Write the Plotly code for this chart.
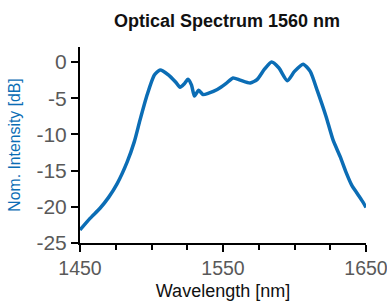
import plotly.graph_objects as go

wavelength_nm = [1450, 1457, 1464, 1470, 1476, 1483, 1488, 1492, 1497, 1502, 1506, 1512, 1517, 1520,
                 1523, 1525.5, 1528, 1530, 1533, 1536, 1540, 1546, 1552, 1557, 1562, 1569, 1574,
                 1579, 1584, 1589, 1595, 1600, 1606, 1611, 1616, 1622, 1627, 1632, 1636, 1640,
                 1644, 1648, 1650]
intensity_db = [-23.2, -21.6, -20.2, -18.7, -16.8, -13.8, -11.0, -8.0, -4.5, -1.8, -1.1, -1.8, -2.8, -3.5,
                -3.0, -2.4, -3.2, -4.7, -3.9, -4.5, -4.3, -3.8, -3.0, -2.2, -2.5, -2.9, -2.4,
                -1.0, 0.0, -0.8, -2.6, -1.3, -0.3, -1.3, -4.0, -7.5, -10.8, -13.1, -15.2, -17.0,
                -18.2, -19.4, -20.1]

x_tick_labels = [1450, 1550, 1650]
y_tick_labels = [0, -5, -10, -15, -20, -25]

FONT = "Liberation Sans Narrow, Arial Narrow, Liberation Sans, Arial, sans-serif"
BLUE = "#0B6DB5"

fig = go.Figure()
fig.add_trace(go.Scatter(x=wavelength_nm, y=intensity_db, mode="lines",
                         line=dict(color=BLUE, width=3.5, shape="spline", smoothing=0.6),
                         showlegend=False, cliponaxis=False))

fig.update_layout(
    width=387, height=307,
    margin=dict(l=80, r=21, t=47, b=64, autoexpand=False),
    paper_bgcolor="white", plot_bgcolor="white",
    title=dict(text="<b>Optical Spectrum 1560 nm</b>", x=227/387, xanchor="center",
               y=1 - 21/307, yanchor="middle",
               font=dict(family=FONT, size=18, color="#111111")),
    xaxis=dict(range=[1450, 1650], tickvals=x_tick_labels, ticktext=[str(v) for v in x_tick_labels],
               automargin=False, ticklabeloverflow="allow",
               showline=True, linecolor="black", linewidth=2, showgrid=False, zeroline=False,
               ticks="outside", ticklen=7, tickwidth=2, tickcolor="black",
               minor=dict(dtick=25, tick0=1450, ticks="outside", ticklen=5, tickwidth=1.5,
                          tickcolor="black", showgrid=False),
               tickfont=dict(family=FONT, size=19.5, color="#595959"),
               title=dict(text="Wavelength [nm]", standoff=6,
                          font=dict(family=FONT, size=18, color="#111111"))),
    yaxis=dict(range=[-25, 2.07], tickvals=y_tick_labels, ticktext=[str(v) for v in y_tick_labels],
               automargin=False, ticklabeloverflow="allow",
               showline=True, linecolor="black", linewidth=2, showgrid=False, zeroline=False,
               ticks="outside", ticklen=7, tickwidth=2, tickcolor="black",
               tickfont=dict(family=FONT, size=21, color="#595959"),
               title=dict(text="Nom. Intensity [dB]", standoff=12,
                          font=dict(family=FONT, size=15.8, color=BLUE))),
)

fig.write_html("out.html", config={"displayModeBar": False},
               post_script="document.body.style.margin='0';document.body.style.overflow='hidden';")
